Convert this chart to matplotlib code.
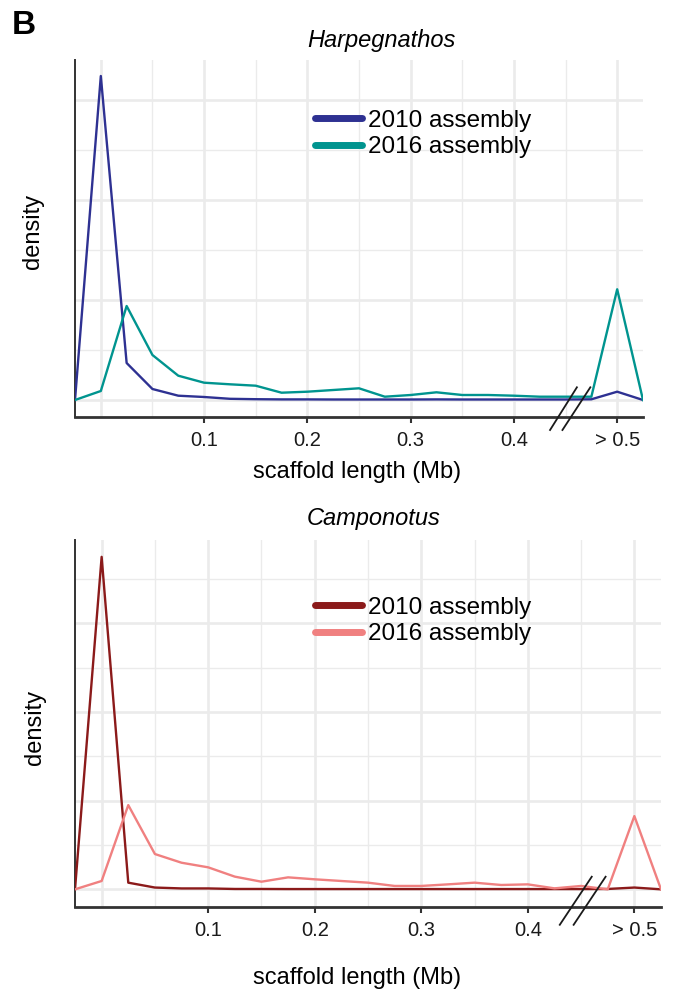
import matplotlib
matplotlib.use("Agg")
import matplotlib.pyplot as plt

plt.rcParams['font.family'] = ['Liberation Sans', 'DejaVu Sans']

# bin positions (Mb); last bins stand for "> 0.5"
bins = [-0.025, 0.0, 0.025, 0.05, 0.075, 0.1, 0.125, 0.15, 0.175, 0.2, 0.225, 0.25,
        0.275, 0.3, 0.325, 0.35, 0.375, 0.4, 0.425, 0.45, 0.475, 0.5, 0.525]

harp_2010 = [0, 3.24, 0.37, 0.11, 0.043, 0.03, 0.012, 0.008, 0.006, 0.006, 0.005, 0.005,
             0.005, 0.005, 0.006, 0.005, 0.005, 0.005, 0.005, 0.005, 0.007, 0.083, 0]
harp_2016 = [0, 0.09, 0.94, 0.45, 0.243, 0.173, 0.157, 0.143, 0.073, 0.083, 0.10, 0.117,
             0.033, 0.05, 0.077, 0.05, 0.05, 0.043, 0.033, 0.033, 0.033, 1.107, 0]

camp_2010 = [0, 3.75, 0.075, 0.02, 0.01, 0.01, 0.004, 0.004, 0.003, 0.003, 0.003, 0.003,
             0.003, 0.003, 0.003, 0.003, 0.003, 0.003, 0.003, 0.003, 0.004, 0.02, 0]
camp_2016 = [0, 0.094, 0.95, 0.398, 0.30, 0.248, 0.143, 0.086, 0.135, 0.113, 0.094, 0.075,
             0.038, 0.038, 0.056, 0.075, 0.049, 0.056, 0.011, 0.038, 0.0, 0.826, 0]

tick_pos = [0.1, 0.2, 0.3, 0.4, 0.5]
tick_labels = ["0.1", "0.2", "0.3", "0.4", "> 0.5"]
series_labels = ["2010 assembly", "2016 assembly"]

W, H = 673, 991
fig = plt.figure(figsize=(W / 100, H / 100), dpi=100)


def px_axes(left, top, right, bottom):
    return fig.add_axes([left / W, 1 - bottom / H, (right - left) / W, (bottom - top) / H])


def panel(ax, y_a, y_b, colors, ylim, leg_xy, brk):
    grid_c = '#EBEBEB'
    for v in [0.05, 0.15, 0.25, 0.35, 0.45]:
        ax.axvline(v, color=grid_c, lw=1.0, zorder=0)
    for v in [0.0] + tick_pos:
        ax.axvline(v, color=grid_c, lw=1.9, zorder=0)
    for v in [0.5, 1.5, 2.5, 3.5]:
        ax.axhline(v, color=grid_c, lw=1.0, zorder=0)
    for v in [0, 1, 2, 3]:
        ax.axhline(v, color=grid_c, lw=1.9, zorder=0)

    ax.plot(bins, y_a, color=colors[0], lw=1.7, zorder=3)
    ax.plot(bins, y_b, color=colors[1], lw=1.7, zorder=3)

    ax.set_xlim(bins[0], bins[-1])
    ax.set_ylim(*ylim)
    ax.set_xticks(tick_pos)
    ax.set_xticklabels(tick_labels, fontsize=14.5, color='#1a1a1a')
    ax.tick_params(axis='x', length=4, width=1.5, color='#333333', pad=6.5)
    ax.set_yticks([])
    for s in ['top', 'right']:
        ax.spines[s].set_visible(False)
    ax.spines['left'].set_color('#333333')
    ax.spines['left'].set_linewidth(1.4)
    ax.spines['bottom'].set_color('#333333')
    ax.spines['bottom'].set_linewidth(2.0)

    # legend
    h1 = plt.Line2D([], [], color=colors[0], lw=5, solid_capstyle='round')
    h2 = plt.Line2D([], [], color=colors[1], lw=5, solid_capstyle='round')
    ax.legend([h1, h2], series_labels, loc='center left', bbox_to_anchor=leg_xy,
              frameon=False, fontsize=17.5, handlelength=1.95, handletextpad=0.25,
              labelspacing=0.2, borderpad=0, borderaxespad=0)

    # axis break marks
    for (x0, x1, y0, y1) in brk:
        ax.plot([x0, x1], [y0, y1], color='#1a1a1a', lw=1.3, clip_on=False, zorder=5)


# Harpegnathos
ax1 = px_axes(75, 60, 643, 416.7)
panel(ax1, harp_2010, harp_2016, ['#2E3192', '#00948F'], (-0.167, 3.4), (0.4225, 0.7926),
      [(0.435, 0.461, -0.30, 0.127), (0.447, 0.474, -0.30, 0.127)])

# Camponotus
ax2 = px_axes(75, 540, 661, 906.7)
panel(ax2, camp_2010, camp_2016, ['#8B1A1A', '#F08080'], (-0.196, 3.94), (0.4096, 0.779),
      [(0.430, 0.460, -0.40, 0.142), (0.443, 0.473, -0.40, 0.142)])

# texts
fig.text(12 / W, 1 - 25 / H, "B", fontsize=24, fontweight='bold', va='center', ha='left')
fig.text(381 / W, 1 - 40 / H, "Harpegnathos", fontsize=17, style='italic', ha='center', va='center')
fig.text(374 / W, 1 - 518 / H, "Camponotus", fontsize=17, style='italic', ha='center', va='center')
fig.text(357.5 / W, 1 - 472 / H, "scaffold length (Mb)", fontsize=17, ha='center', va='center')
fig.text(357.5 / W, 1 - 978 / H, "scaffold length (Mb)", fontsize=17, ha='center', va='center')
fig.text(33 / W, 1 - 231 / H, "density", fontsize=17, rotation=90, ha='center', va='center')
fig.text(35 / W, 1 - 727 / H, "density", fontsize=17, rotation=90, ha='center', va='center')

fig.savefig("out.png", dpi=100)
